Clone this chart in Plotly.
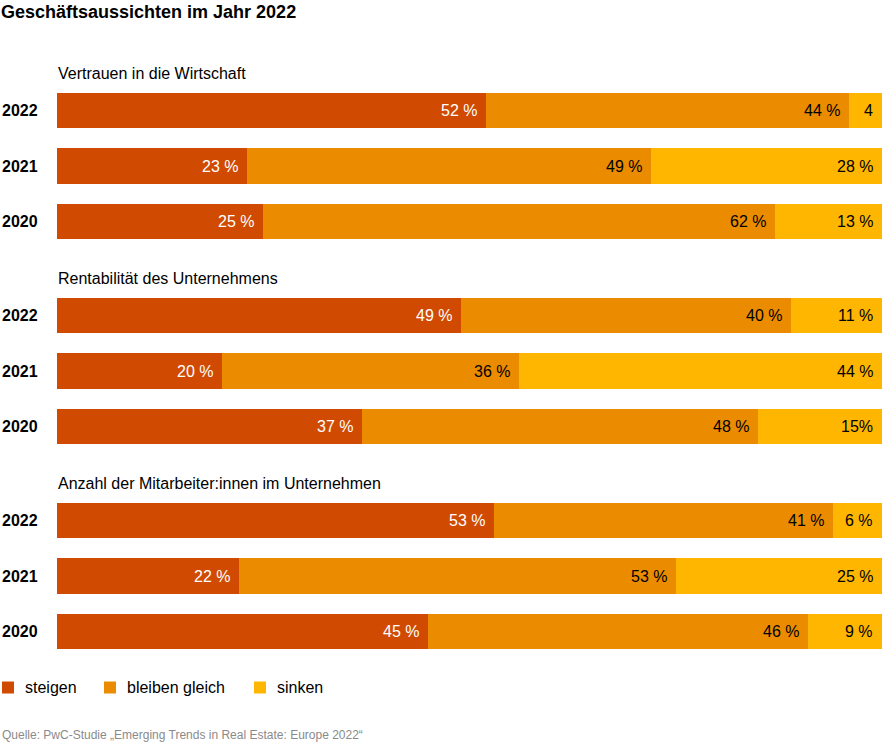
import plotly.graph_objects as go

# ---- data ----
groups = ["Vertrauen in die Wirtschaft",
          "Rentabilität des Unternehmens",
          "Anzahl der Mitarbeiter:innen im Unternehmen"]
years = ["2022", "2021", "2020"]
series = ["steigen", "bleiben gleich", "sinken"]
colors = ["#d04a02", "#eb8c00", "#ffb600"]
text_colors = ["white", "black", "black"]

# values per group, per year (2022, 2021, 2020)
steigen = [52, 23, 25,   49, 20, 37,   53, 22, 45]
bleiben_gleich = [44, 49, 62,   40, 36, 48,   41, 53, 46]
sinken = [4, 28, 13,   11, 44, 15,   6, 25, 9]
values = [steigen, bleiben_gleich, sinken]

# labels as printed in the original (some truncated / formatted differently)
label_overrides = {(2, 0): "4", (2, 5): "15%"}

# ---- layout helpers (pixel positions) ----
W, H = 885, 743
ML, MR = 57, 3
first_bar = 110.5
row_gap = 55.5
group_gap = 205
bar_h = 35.5

ypos = []
for g in range(len(groups)):
    for r in range(len(years)):
        ypos.append(first_bar + g * group_gap + r * row_gap)

FONT = "Liberation Sans, Arial, Helvetica, sans-serif"

fig = go.Figure()
for s, name in enumerate(series):
    fig.add_trace(go.Bar(
        name=name, orientation="h",
        x=values[s], y=ypos, width=bar_h,
        marker=dict(color=colors[s], line=dict(width=0)),
        hoverinfo="skip", showlegend=False,
    ))

annotations = []
shapes = []
# value labels at the inside end of each segment
for s in range(len(series)):
    for i, v in enumerate(values[s]):
        end = sum(values[k][i] for k in range(s + 1))
        txt = label_overrides.get((s, i), f"{v} %")
        annotations.append(dict(
            x=end, y=ypos[i], xref="x", yref="y", text=txt,
            showarrow=False, xanchor="right", yanchor="middle", xshift=-7,
            font=dict(family=FONT, size=16, color=text_colors[s])))

# year labels
for i, yp in enumerate(ypos):
    annotations.append(dict(
        x=0, y=yp, xref="paper", yref="y", text=f"<b>{years[i % 3]}</b>",
        showarrow=False, xanchor="left", yanchor="middle", xshift=-57,
        font=dict(family=FONT, size=16, color="black")))

# group titles
for g, name in enumerate(groups):
    annotations.append(dict(
        x=0, y=first_bar + g * group_gap - 37.5, xref="paper", yref="y",
        text=name, showarrow=False, xanchor="left", yanchor="middle", xshift=-1,
        font=dict(family=FONT, size=16, color="black")))

# legend (drawn manually to match spacing)
legend_x = [2, 104, 254]
legend_y = 687.5
for s, name in enumerate(series):
    shapes.append(dict(
        type="rect", xref="paper", yref="y", xsizemode="pixel",
        xanchor=0, x0=legend_x[s] - ML, x1=legend_x[s] - ML + 12,
        y0=legend_y - 6, y1=legend_y + 6,
        fillcolor=colors[s], line=dict(width=0)))
    annotations.append(dict(
        x=0, y=legend_y, xref="paper", yref="y", text=name,
        showarrow=False, xanchor="left", yanchor="middle",
        xshift=legend_x[s] + 21 - ML,
        font=dict(family=FONT, size=16, color="black")))

# source
annotations.append(dict(
    x=0, y=735, xref="paper", yref="y",
    text="Quelle: PwC-Studie „Emerging Trends in Real Estate: Europe 2022“",
    showarrow=False, xanchor="left", yanchor="middle", xshift=-57,
    font=dict(family=FONT, size=12, color="#8a8a8a")))

fig.update_layout(
    width=W, height=H,
    barmode="stack",
    bargap=0,
    plot_bgcolor="white", paper_bgcolor="white",
    margin=dict(l=ML, r=MR, t=0, b=0, pad=0, autoexpand=False),
    font=dict(family=FONT, size=16, color="black"),
    title=dict(text="<b>Geschäftsaussichten im Jahr 2022</b>",
               x=1 / W, xanchor="left", xref="container",
               y=1 - 12 / H, yanchor="middle", yref="container",
               font=dict(family=FONT, size=18, color="black")),
    xaxis=dict(range=[0, 100], visible=False, fixedrange=True),
    yaxis=dict(range=[H, 0], visible=False, fixedrange=True),
    showlegend=False,
    shapes=shapes,
    annotations=annotations,
)

fig.write_html("out.html",
               config={"displayModeBar": False},
               post_script="document.body.style.margin='0';document.body.style.overflow='hidden';")
